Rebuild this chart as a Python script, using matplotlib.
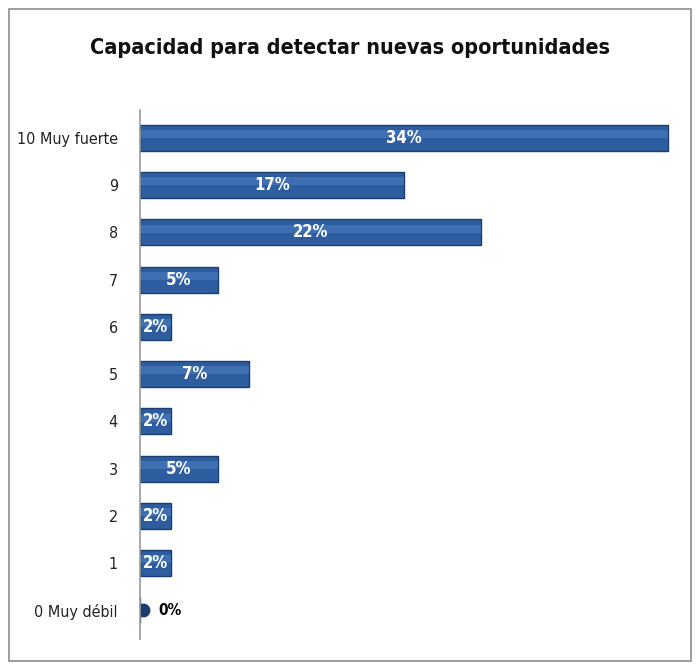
import matplotlib.pyplot as plt
from matplotlib.patches import Rectangle

categories = ['0 Muy débil', '1', '2', '3', '4', '5', '6', '7', '8', '9', '10 Muy fuerte']
values = [0, 2, 2, 5, 2, 7, 2, 5, 22, 17, 34]
labels = ['0%', '2%', '2%', '5%', '2%', '7%', '2%', '5%', '22%', '17%', '34%']

title = 'Capacidad para detectar nuevas oportunidades'
narrow = ['DejaVu Sans']

fig = plt.figure(figsize=(7, 6.64), dpi=100)
fig.patches.append(Rectangle((0.013, 0.004), 0.974, 0.982, transform=fig.transFigure,
                             fill=False, edgecolor='#8c8c8c', linewidth=1.2))
ax = fig.add_axes([0.2, 0.038, 0.776, 0.797])

ypos = list(range(len(categories)))
bar_h = 0.55
ax.barh(ypos, values, height=bar_h, color='#2d5d9f', edgecolor='#1c3d70', linewidth=1.0)
# highlight stripe for cylinder look
ax.barh([y + 0.08 for y in ypos], values, height=bar_h * 0.3, color='#4a7cc0',
        linewidth=0, alpha=0.6)

for y, v, lab in zip(ypos, values, labels):
    if v == 0:
        ax.plot([0.2], [y], marker='o', markersize=9, color='#1c3d70',
                markeredgecolor='#1c3d70')
        ax.text(1.2, y, lab, ha='left', va='center', color='black', fontsize=11,
                fontweight='bold', family=narrow, stretch='condensed')
    else:
        ax.text(v / 2, y, lab, ha='center', va='center', color='white', fontsize=12,
                fontweight='bold', family=narrow, stretch='condensed')

ax.set_xlim(0, 35)
ax.set_ylim(-0.6, 10.6)
ax.set_yticks(ypos)
ax.set_yticklabels(categories, family=narrow, fontsize=11.5, color='#222222',
                   stretch='condensed')
ax.tick_params(axis='y', length=0, pad=16)
ax.set_xticks([])
for s in ['top', 'right', 'bottom']:
    ax.spines[s].set_visible(False)
ax.spines['left'].set_color('#9a9a9a')
ax.spines['left'].set_linewidth(1.2)

fig.text(0.5, 0.928, title, ha='center', va='center', fontsize=15.5,
         fontweight='bold', family=narrow, stretch='condensed', color='#111111')

fig.savefig('out.png', dpi=100)
